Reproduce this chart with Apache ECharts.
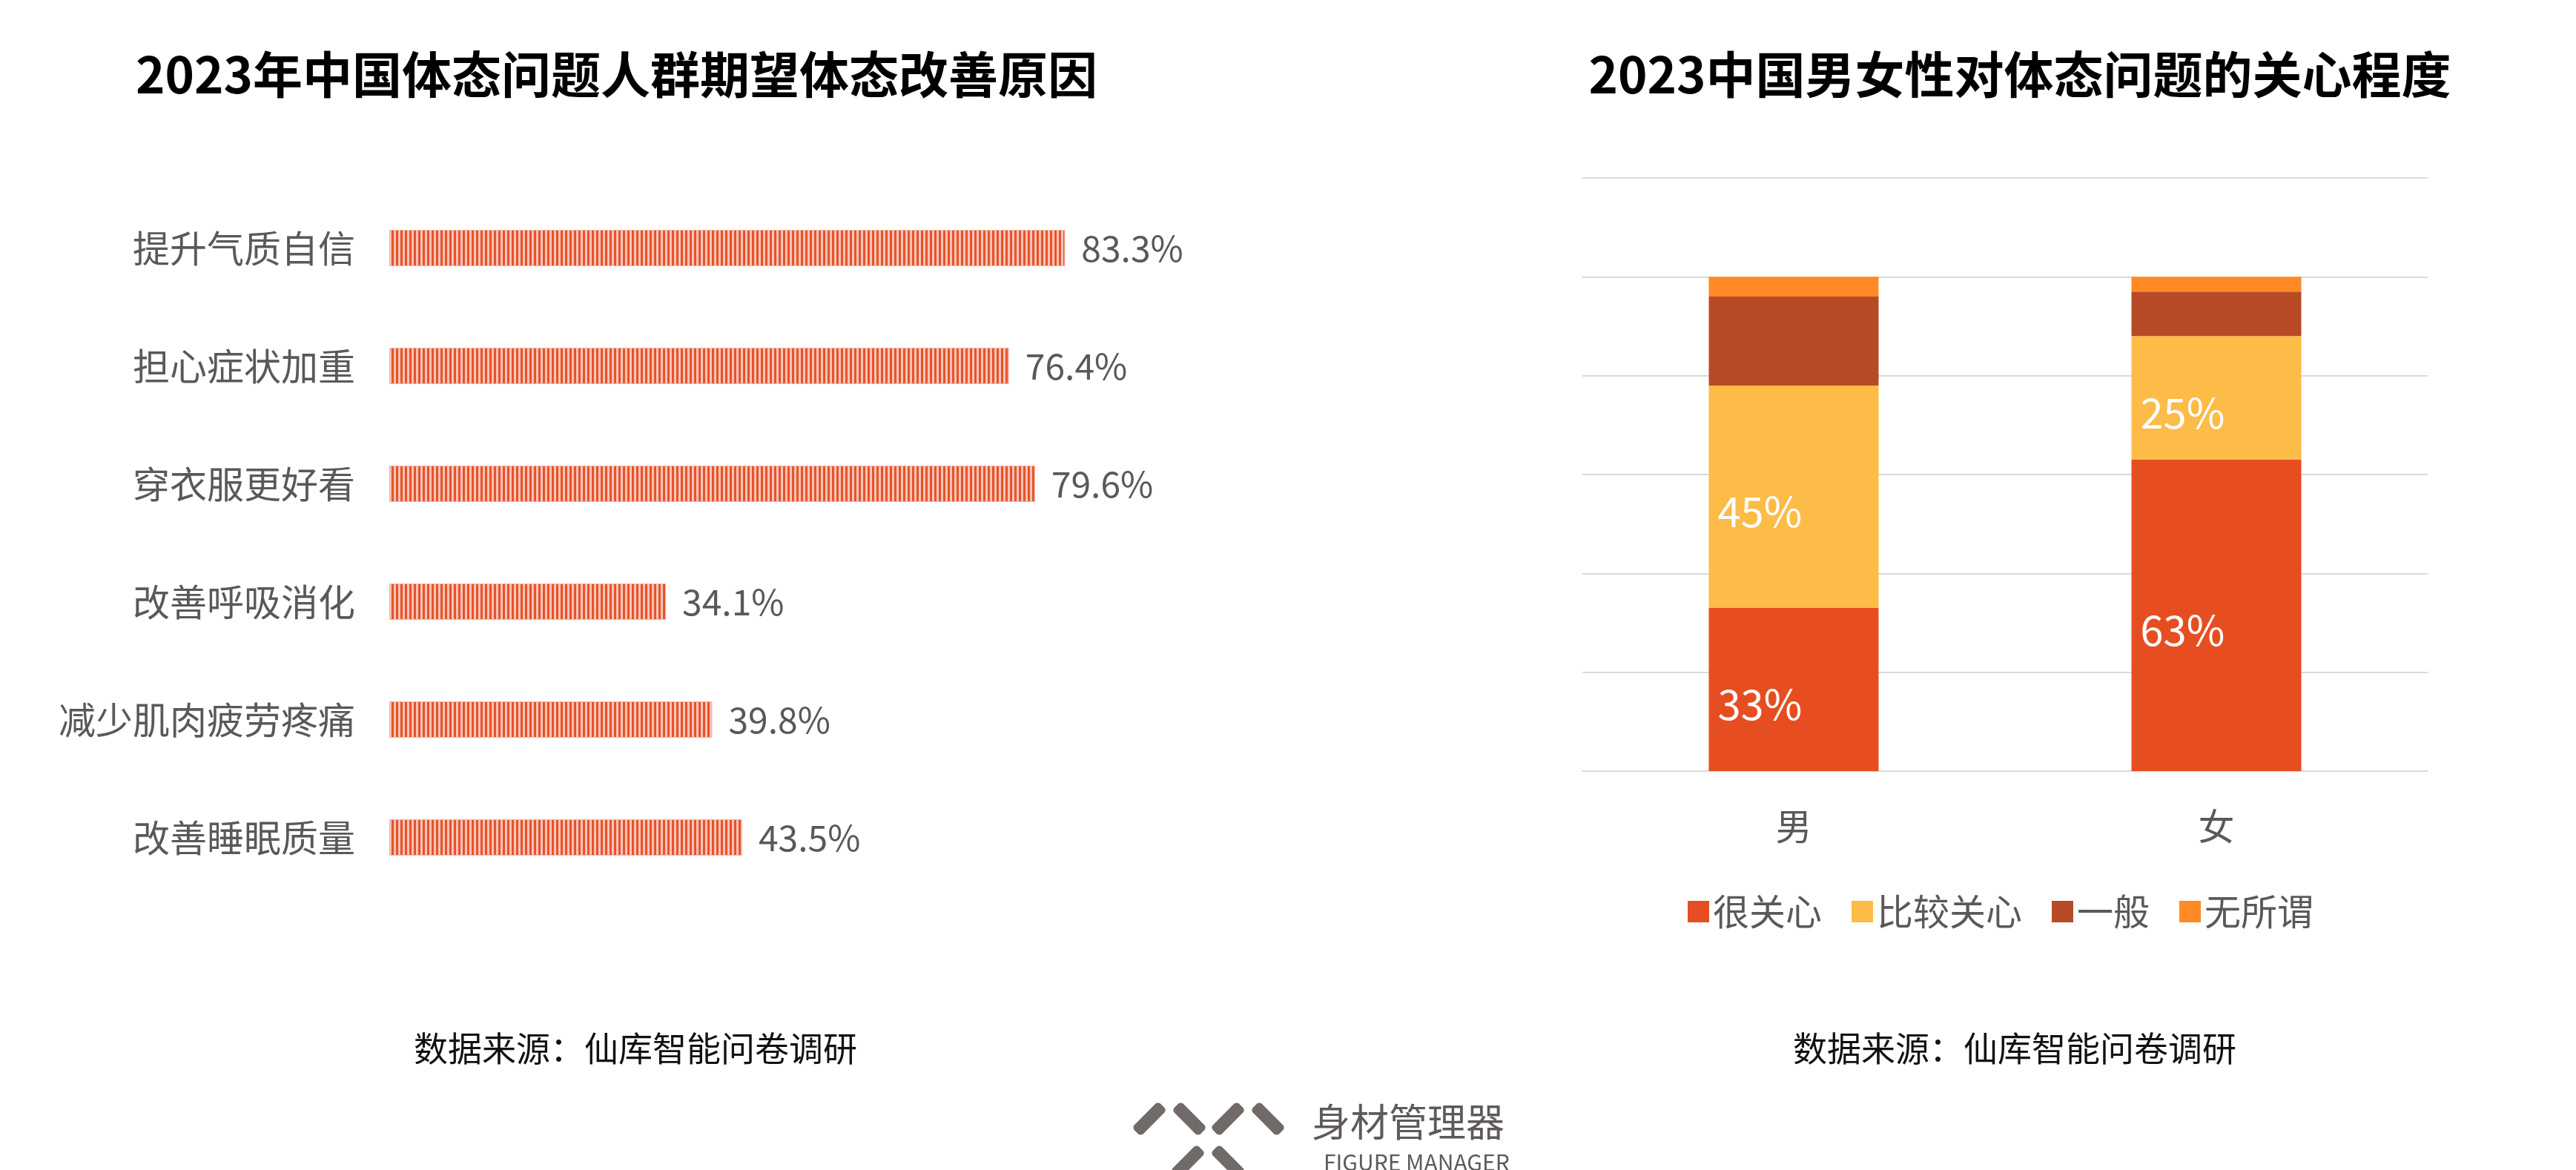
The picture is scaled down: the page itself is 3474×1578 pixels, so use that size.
<!DOCTYPE html>
<html>
<head>
<meta charset="utf-8">
<script src="https://cdn.jsdelivr.net/npm/echarts@6/dist/echarts.min.js"></script>
<style>
html, body { margin: 0; padding: 0; background: #fff; }
#main { width: 3474px; height: 1578px; }
</style>
</head>
<body>
<div id="main"></div>
<script>
// left chart: reasons
var reasonNames = ['提升气质自信', '担心症状加重', '穿衣服更好看', '改善呼吸消化', '减少肌肉疲劳疼痛', '改善睡眠质量'];
var reasonValues = [83.3, 76.4, 79.6, 34.1, 39.8, 43.5];

// right chart: concern by gender
var genders = ['男', '女'];
var veryConcerned = [33, 63];
var fairlyConcerned = [45, 25];
var neutral = [18, 9];
var indifferent = [4, 3];

var FONT = '"Noto Sans CJK SC", "Noto Sans", sans-serif';
var GREY = '#595959';

function stripePattern() {
    var c = document.createElement('canvas');
    c.width = 6;
    c.height = 10;
    var ctx = c.getContext('2d');
    ctx.fillStyle = '#f6c4b6';
    ctx.fillRect(0, 0, 6, 10);
    ctx.fillStyle = '#e8522a';
    ctx.fillRect(0, 0, 3, 10);
    return c;
}

var chart = echarts.init(document.getElementById('main'));

function stackSeries(name, data, color, showLabel) {
    return {
        name: name,
        type: 'bar',
        stack: 'g',
        xAxisIndex: 1,
        yAxisIndex: 1,
        barWidth: 229,
        data: data,
        itemStyle: { color: color },
        label: {
            show: showLabel,
            position: 'insideLeft',
            distance: 12,
            offset: [0, 20],
            color: '#fff',
            fontSize: 56,
            fontFamily: FONT,
            formatter: '{c}%'
        }
    };
}

// logo strokes: x, y, direction
var logoStrokes = [[1550, 1509, 1], [1604, 1509, -1], [1656, 1509, 1], [1710, 1509, -1], [1602, 1567, 1], [1656, 1567, -1]];
var graphics = logoStrokes.map(function (s) {
    return {
        type: 'rect',
        x: s[0], y: s[1],
        rotation: s[2] * Math.PI / 4,
        shape: { x: -25, y: -8.5, width: 50, height: 17, r: 5 },
        style: { fill: '#706a69' }
    };
});
graphics.push(
    { type: 'text', x: 1769, y: 1513, style: { text: '身材管理器', font: '52px ' + FONT, fill: '#5e5a59', textVerticalAlign: 'middle' } },
    { type: 'text', x: 1785, y: 1568, style: { text: 'FIGURE MANAGER', font: '30px ' + FONT, fill: '#5e5a59', textVerticalAlign: 'middle' } },
    { type: 'text', x: 857, y: 1414, style: { text: '数据来源：仙库智能问卷调研', font: '46px ' + FONT, fill: '#111', textAlign: 'center', textVerticalAlign: 'middle' } },
    { type: 'text', x: 2717, y: 1414, style: { text: '数据来源：仙库智能问卷调研', font: '46px ' + FONT, fill: '#111', textAlign: 'center', textVerticalAlign: 'middle' } }
);

chart.setOption({
    backgroundColor: '#fff',
    animation: false,
    title: [{
        text: '2023年中国体态问题人群期望体态改善原因',
        left: 178, top: 62,
        textStyle: { fontSize: 67, fontWeight: 'bold', color: '#000', fontFamily: FONT }
    }, {
        text: '2023中国男女性对体态问题的关心程度',
        left: 2719, top: 62, textAlign: 'center',
        textStyle: { fontSize: 67, fontWeight: 'bold', color: '#000', fontFamily: FONT }
    }],
    legend: {
        data: ['很关心', '比较关心', '一般', '无所谓'],
        left: 2271, top: 1200,
        itemWidth: 29, itemHeight: 29, itemGap: 40,
        icon: 'rect',
        textStyle: { fontSize: 49, color: GREY, fontFamily: FONT }
    },
    grid: [
        { left: 525, width: 1094, top: 255, height: 954 },
        { left: 2134, width: 1140, top: 240, height: 800 }
    ],
    xAxis: [{
        gridIndex: 0, type: 'value', min: 0, max: 100, show: false
    }, {
        gridIndex: 1, type: 'category', data: genders,
        axisLine: { lineStyle: { color: '#d9d9d9', width: 2 } },
        axisTick: { show: false },
        axisLabel: { fontSize: 49, color: GREY, margin: 50, fontFamily: FONT }
    }],
    yAxis: [{
        gridIndex: 0, type: 'category', data: reasonNames, inverse: true,
        axisLine: { show: false }, axisTick: { show: false },
        axisLabel: { fontSize: 50, color: GREY, margin: 46, fontFamily: FONT }
    }, {
        gridIndex: 1, type: 'value', min: 0, max: 120, interval: 20,
        axisLabel: { show: false },
        splitLine: { lineStyle: { color: '#d9d9d9', width: 2 } }
    }],
    series: [{
        type: 'bar',
        data: reasonValues,
        barWidth: 49,
        itemStyle: {
            color: { image: stripePattern(), repeat: 'repeat' },
            borderColor: '#f3b3a3', borderWidth: 1
        },
        label: {
            show: true, position: 'right', distance: 22,
            color: GREY, fontSize: 48, fontFamily: FONT,
            formatter: '{c}%'
        }
    },
        stackSeries('很关心', veryConcerned, '#e64e22', true),
        stackSeries('比较关心', fairlyConcerned, '#fdbb48', true),
        stackSeries('一般', neutral, '#b84a25', false),
        stackSeries('无所谓', indifferent, '#ff8a25', false)
    ],
    graphic: graphics
});
</script>
</body>
</html>
